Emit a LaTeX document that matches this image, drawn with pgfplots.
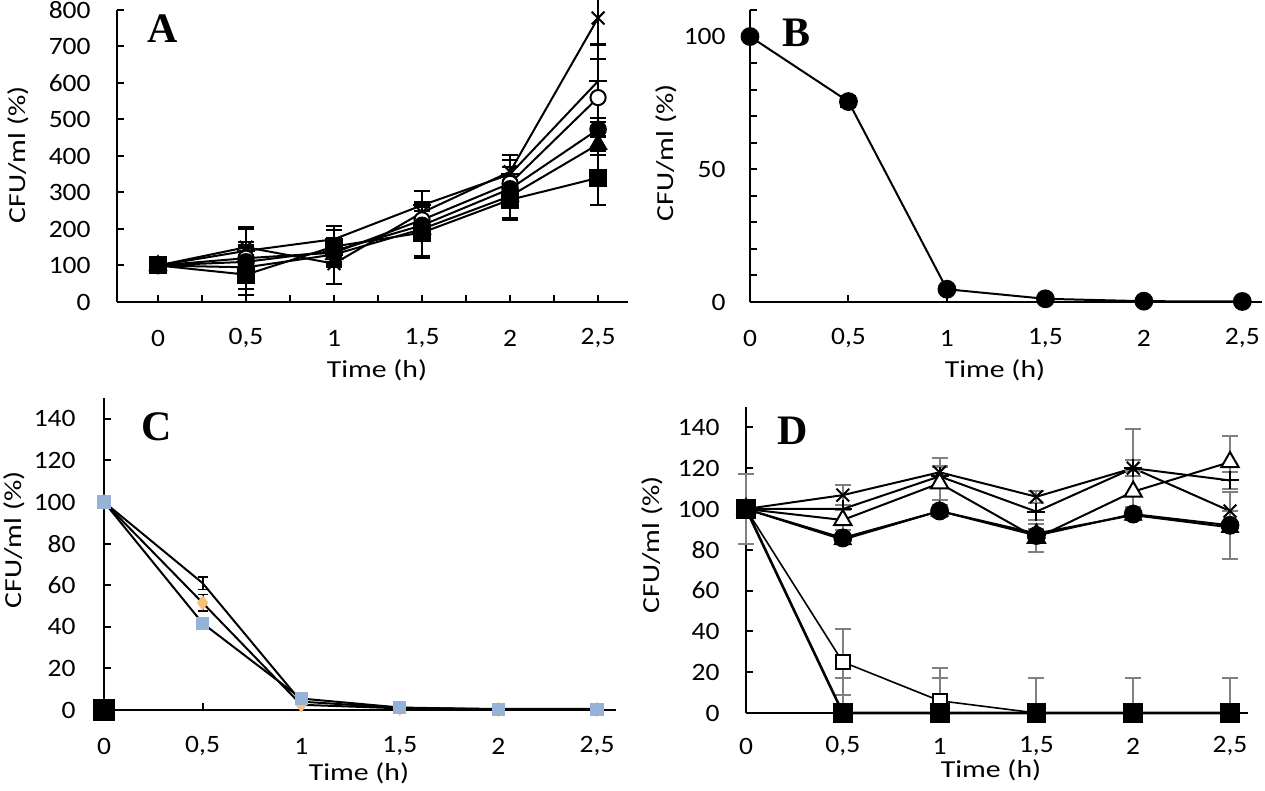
\documentclass[border=0pt]{standalone}
\usepackage{fontspec}
\setmainfont{Carlito}
\newfontfamily\tickf{Carlito}[FakeStretch=1.1]
\newfontfamily\labf{Carlito}[FakeStretch=1.22]
\newfontfamily\tnr{Liberation Serif}
\usepackage{pgfplots}
\pgfplotsset{compat=1.18}
\definecolor{cblue}{RGB}{149,179,215}
\definecolor{corange}{RGB}{250,192,120}
\definecolor{egray}{RGB}{128,128,128}
\pgfplotsset{
  pl/.style={black, solid, line width=1pt},
  panel/.style={
    scale only axis, clip=false,
    axis x line=bottom, axis y line=left,
    axis line style={-, line width=1pt, black},
    every tick/.style={black, line width=1pt},
    major tick length=3.5pt, minor tick length=3.5pt,
    tick align=inside,
    /pgf/number format/assume math mode=true,
    ticklabel style={font=\tickf\fontsize{12.5}{12.5}\selectfont},
    xtick={0,0.5,1,1.5,2,2.5},
    xticklabels={0,{0,5},1,{1,5},2,{2,5}},
    xticklabel style={anchor=center, yshift=-18pt},
    yticklabel style={anchor=east, inner sep=0pt, xshift=-13pt},
    error bars/y dir=both, error bars/y explicit,
    error bars/error bar style={line width=1pt, black, solid},
    error bars/error mark options={black, solid, rotate=90, mark size=4pt, line width=1pt},
  }
}
\begin{document}
\begin{tikzpicture}
\useasboundingbox (0,0) rectangle (632.5pt,395.5pt);
% ---------------- A ----------------
\begin{axis}[panel, at={(58.5pt,244.5pt)}, anchor=south west,
  width=255.5pt, height=146pt, xmin=-0.233, xmax=2.67, ymin=0, ymax=800,
  ytick={0,100,...,800}, minor xtick={0.25,0.75,1.25,1.75,2.25}]
\addplot[pl, mark=x, mark size=4.5pt, mark options={black, line width=1pt}] coordinates {
 (0,100) +- (0,0) (0.5,150) +- (0,55) (1,105) +- (0,55) (1.5,245) +- (0,60) (2,357) +- (0,45) (2.5,778) +- (0,70)};
\addplot[pl, mark=+, mark size=4.5pt, mark options={black, line width=1pt}] coordinates {
 (0,100) +- (0,0) (0.5,140) +- (0,60) (1,172) +- (0,35) (1.5,265) +- (0,40) (2,350) +- (0,40) (2.5,605) +- (0,100)};
\addplot[pl, mark=*, mark size=3.8pt, mark options={black, fill=white, line width=1pt}] coordinates {
 (0,100) +- (0,0) (0.5,120) +- (0,45) (1,135) +- (0,40) (1.5,225) +- (0,45) (2,325) +- (0,45) (2.5,560) +- (0,105)};
\addplot[pl, mark=*, mark size=3.9pt, mark options={black, fill=black}] coordinates {
 (0,100) +- (0,0) (0.5,110) +- (0,40) (1,140) +- (0,30) (1.5,210) +- (0,40) (2,310) +- (0,40) (2.5,473) +- (0,20)};
\addplot[pl, mark=triangle*, mark size=4.6pt, mark options={black, fill=black}] coordinates {
 (0,100) +- (0,0) (0.5,95) +- (0,60) (1,130) +- (0,30) (1.5,200) +- (0,75) (2,290) +- (0,60) (2.5,432) +- (0,30)};
\addplot[pl, mark=square*, mark size=4pt, mark options={black, fill=black}] coordinates {
 (0,100) +- (0,0) (0.5,75) +- (0,55) (1,152) +- (0,45) (1.5,190) +- (0,70) (2,280) +- (0,55) (2.5,340) +- (0,75)};
\end{axis}
% ---------------- B ----------------
\begin{axis}[panel, at={(375pt,244.5pt)}, anchor=south west,
  width=256pt, height=146pt, xmin=0, xmax=2.6, ymin=0, ymax=110,
  ytick={0,50,100}, minor ytick={10,20,30,40,60,70,80,90,110},
  yticklabel style={xshift=1pt}]
\addplot[pl, mark=*, mark size=4.2pt, mark options={black, fill=black}] coordinates {
 (0,100) +- (0,0) (0.5,75.5) +- (0,2) (1,4.8) +- (0,0.5) (1.5,1.2) +- (0,0.3) (2,0.3) +- (0,0) (2.5,0.2) +- (0,0)};
\end{axis}
% ---------------- C ----------------
\begin{axis}[panel, at={(52pt,40.5pt)}, anchor=south west,
  width=256pt, height=156pt, xmin=0, xmax=2.596, ymin=0, ymax=150,
  ytick={0,20,...,140},
  yticklabel style={xshift=-1pt},
  error bars/error mark options={black, solid, rotate=90, mark size=2.5pt, line width=0.8pt}]
\addplot[pl, mark=none] coordinates {
 (0,100) +- (0,0) (0.5,61) +- (0,3) (1,4) +- (0,0) (1.5,1) +- (0,0) (2,0.5) +- (0,0) (2.5,0.5) +- (0,0)};
\addplot[pl, mark=diamond*, mark size=3pt, mark options={corange, fill=corange}] coordinates {
 (0,100) +- (0,0) (0.5,51.5) +- (0,4) (1,2.5) +- (0,0) (1.5,0.8) +- (0,0) (2,0.3) +- (0,0) (2.5,0.3) +- (0,0)};
\addplot[pl, mark=square*, mark size=2.8pt, mark options={cblue, fill=cblue}] coordinates {
 (0,100) +- (0,0) (0.5,41.7) +- (0,1.5) (1,5.5) +- (0,0) (1.5,1.2) +- (0,0) (2,0.3) +- (0,0) (2.5,0.3) +- (0,0)};
\addplot[pl, only marks, mark=triangle*, mark size=4pt, mark options={black, fill=black}] coordinates {(0,0) +- (0,0)};
\addplot[pl, only marks, mark=square*, mark size=5pt, mark options={black, fill=black}] coordinates {(0,0) +- (0,0)};
\end{axis}
% ---------------- D ----------------
\begin{axis}[panel, at={(373pt,39pt)}, anchor=south west,
  width=251pt, height=153pt, xmin=0, xmax=2.593, ymin=0, ymax=150,
  ytick={0,20,...,140},
  xticklabel style={yshift=1.5pt},
  error bars/error bar style={line width=1pt, egray, solid},
  error bars/error mark options={egray, solid, rotate=90, mark size=4pt, line width=1pt}]
\addplot[pl, mark=x, mark size=4.5pt, mark options={black, line width=1pt}] coordinates {
 (0,100) +- (0,0) (0.5,106.8) +- (0,5) (1,118) +- (0,7) (1.5,106) +- (0,3) (2,120) +- (0,19) (2.5,99) +- (0,0)};
\addplot[pl, mark=+, mark size=4.5pt, mark options={black, line width=1pt}] coordinates {
 (0,100) +- (0,0) (0.5,100) +- (0,0) (1,116) +- (0,5) (1.5,98.7) +- (0,4) (2,120) +- (0,4) (2.5,114) +- (0,4)};
\addplot[pl, mark=triangle*, mark size=5pt, mark options={black, fill=white, line width=1pt}] coordinates {
 (0,100) +- (0,0) (0.5,94.6) +- (0,5) (1,112.6) +- (0,8) (1.5,85.8) +- (0,7) (2,108.5) +- (0,10) (2.5,123) +- (0,13)};
\addplot[pl, mark=triangle*, mark size=4.5pt, mark options={black, fill=black}] coordinates {
 (0,100) +- (0,0) (0.5,85) +- (0,0) (1,99) +- (0,0) (1.5,88) +- (0,0) (2,97) +- (0,0) (2.5,91) +- (0,0)};
\addplot[pl, mark=*, mark size=4.2pt, mark options={black, fill=black}] coordinates {
 (0,100) +- (0,17) (0.5,85.8) +- (0,2) (1,99) +- (0,3) (1.5,87) +- (0,3) (2,97.5) +- (0,3) (2.5,92) +- (0,16.5)};
\addplot[pl, line width=0.8pt, mark=square*, mark size=3.5pt, mark options={black, fill=white, line width=1pt}] coordinates {
 (0,100) += (0,0) -= (0,0) (0.5,25) += (0,16) -= (0,16) (1,6) += (0,16) -= (0,6) (1.5,0) += (0,0) -= (0,0) (2,0) += (0,0) -= (0,0) (2.5,0) += (0,0) -= (0,0)};
\addplot[pl, line width=1.3pt, mark=square*, mark size=4.3pt, mark options={black, fill=black}] coordinates {
 (0,100) += (0,0) -= (0,0) (0.5,0) += (0,17) -= (0,0) (1,0) += (0,17) -= (0,0) (1.5,0) += (0,17) -= (0,0) (2,0) += (0,17) -= (0,0) (2.5,0) += (0,17) -= (0,0)};
\end{axis}
% ---------------- texts ----------------
\node[font=\tnr\bfseries\fontsize{21}{21}\selectfont] at (81.5pt,381pt) {A};
\node[font=\tnr\bfseries\fontsize{21}{21}\selectfont] at (398.5pt,379pt) {B};
\node[font=\tnr\bfseries\fontsize{21}{21}\selectfont] at (78.5pt,182pt) {C};
\node[font=\tnr\bfseries\fontsize{21}{21}\selectfont] at (396.5pt,180pt) {D};
\node[rotate=90, font=\labf\fontsize{12.2}{12.2}\selectfont] at (9pt,318pt) {CFU/ml (\%)};
\node[rotate=90, font=\labf\fontsize{12.2}{12.2}\selectfont] at (333pt,319pt) {CFU/ml (\%)};
\node[rotate=90, font=\labf\fontsize{12.2}{12.2}\selectfont] at (7pt,125.5pt) {CFU/ml (\%)};
\node[rotate=90, font=\labf\fontsize{12.2}{12.2}\selectfont] at (326pt,123pt) {CFU/ml (\%)};
\node[font=\labf\fontsize{12.2}{12.2}\selectfont] at (188.5pt,210.5pt) {Time (h)};
\node[font=\labf\fontsize{12.2}{12.2}\selectfont] at (497.5pt,210.5pt) {Time (h)};
\node[font=\labf\fontsize{12.2}{12.2}\selectfont] at (179.5pt,9pt) {Time (h)};
\node[font=\labf\fontsize{12.2}{12.2}\selectfont] at (495.5pt,10.5pt) {Time (h)};
\end{tikzpicture}
\end{document}
